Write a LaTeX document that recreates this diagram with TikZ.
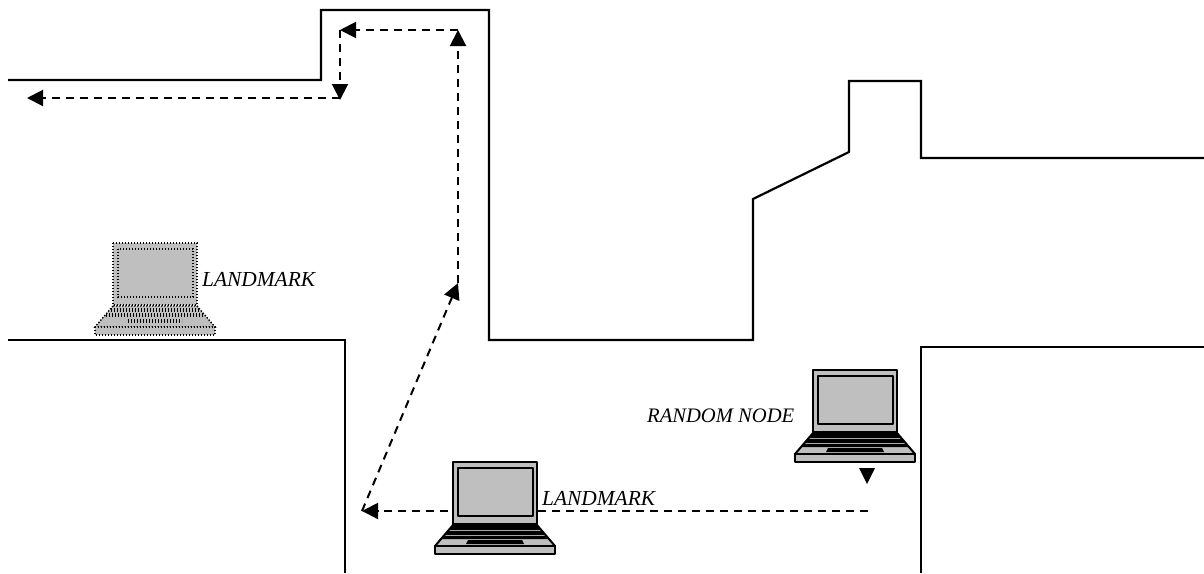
\documentclass[tikz,border=0pt]{standalone}
\usepackage{fontspec}
\setmainfont{Liberation Serif}
\usetikzlibrary{arrows.meta}
\definecolor{lapgray}{gray}{0.75}
\tikzset{
  x=1pt,y=-1pt,
  wall/.style={line width=2.2pt,line join=miter},
  route/.style={line width=2pt,dash pattern=on 8pt off 6pt,-{Triangle[length=16pt,width=16pt]}},
  lab/.style={font=\itshape\fontsize{21.4}{24}\selectfont,inner sep=0pt,anchor=west},
  labwide/.style={font=\itshape\fontsize{20.6}{24}\selectfont,inner sep=0pt,anchor=west},
  solidlap/.style={draw=black,line width=2pt,fill=lapgray,line join=round},
  dotlap/.style={draw=black,line width=1.4pt,dash pattern=on 1.4pt off 1.6pt,fill=lapgray},
  dotkey/.style={draw=black,line width=4.4pt,dash pattern=on 1.2pt off 1.8pt},
  pics/solidlaptop/.style={code={
    \path[solidlap] (0,0) rectangle (84,62);
    \path[solidlap] (5,6) rectangle (80,54);
    \path[solidlap] (0,63) -- (84,63) -- (102,84) -- (-18,84) -- cycle;
    \path[solidlap] (-18,84) rectangle (102,92);
    \fill[black] (-1,64) -- (85,64) -- (88,68) -- (-4,68) -- cycle;
    \fill[black] (-5,69) -- (89,69) -- (92,73) -- (-8,73) -- cycle;
    \fill[black] (-9,74) -- (93,74) -- (95,77) -- (-11,77) -- cycle;
    \fill[black] (15,78) -- (69,78) -- (71,82) -- (13,82) -- cycle;
  }},
  pics/dotlaptop/.style={code={
    \path[dotlap] (0,0) rectangle (84,62);
    \path[dotlap] (5,6) rectangle (80,54);
    \path[dotlap] (0,63) -- (84,63) -- (102,84) -- (-18,84) -- cycle;
    \path[dotlap] (-18,84) rectangle (102,92);
    \path[dotkey] (-2,67) -- (86,67);
    \path[dotkey] (-7,72) -- (91,72);
    \path[dotkey] (15,78) -- (69,78);
  }},
}
\begin{document}
\begin{tikzpicture}
\useasboundingbox (0,0) rectangle (1204,573);
% walls
\draw[wall] (8,80) -- (321,80) -- (321,10) -- (489,10) -- (489,340) -- (753,340) -- (753,199) -- (849,152) -- (849,81) -- (921,81) -- (921,158) -- (1204,158);
\draw[wall] (8,340) -- (345,340) -- (345,573);
\draw[wall] (921,573) -- (921,347) -- (1204,347);
% way points
\coordinate (start) at (868,511);
\coordinate (corner) at (362,511);
\coordinate (mid) at (458,283);
\coordinate (top) at (458,30);
\coordinate (turn) at (340,30);
\coordinate (low) at (340,100);
\coordinate (lowb) at (340,98);
\coordinate (end) at (27,98);
% routes
\draw[route] (start) -- (corner);
\draw[route] (corner) -- (mid);
\draw[route] (mid) -- (top);
\draw[route] (top) -- (turn);
\draw[route] (turn) -- (low);
\draw[route] (lowb) -- (end);
\fill (859,468) -- (875,468) -- (867,484) -- cycle;
% laptops
\pic (lapA) at (113,243) {dotlaptop};
\pic (lapB) at (453,462) {solidlaptop};
\pic (lapC) at (813,370) {solidlaptop};
% labels
\node[lab] (labA) at (202,279) {LANDMARK};
\node[lab] (labB) at (542,498) {LANDMARK};
\node[labwide] (labC) at (647,416) {RANDOM NODE};
\end{tikzpicture}
\end{document}
